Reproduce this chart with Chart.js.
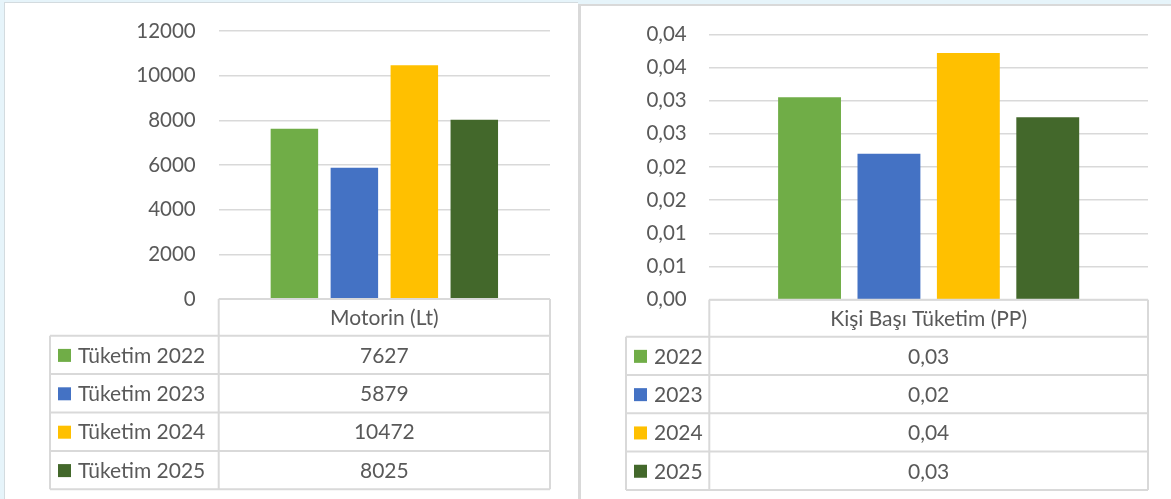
<!DOCTYPE html>
<html>
<head>
<meta charset="utf-8">
<script src="https://cdn.jsdelivr.net/npm/chart.js@4.4.1/dist/chart.umd.min.js"></script>
<style>
  html, body { margin: 0; padding: 0; }
  body { width: 1171px; height: 499px; overflow: hidden; position: relative; background: #e6f4fa; }
  .panel { position: absolute; background: #fff; box-sizing: border-box; }
  #p1 { left: 4px; top: 2px; width: 574px; height: 497px; border-left: 1px solid #d3dbdf; border-top: 1px solid #d3dbdf; }
  #p2 { left: 578px; top: 4px; width: 593px; height: 495px; border-left: 3px solid #d9d9d9; border-top: 2px solid #d9d9d9; }
  canvas { position: absolute; top: 0; }
  #c1 { left: 0; }
  #c2 { left: 578px; }
</style>
</head>
<body>
<div class="panel" id="p1"></div>
<div class="panel" id="p2"></div>
<canvas id="c1" width="578" height="499"></canvas>
<canvas id="c2" width="593" height="499"></canvas>
<script>
const seriesColors = ['#70AD47', '#4472C4', '#FFC000', '#43682B'];

// left chart
const motorinCategory = ['Motorin (Lt)'];
const motorinSeries = ['Tüketim 2022', 'Tüketim 2023', 'Tüketim 2024', 'Tüketim 2025'];
const motorinValues = [7627, 5879, 10472, 8025];
const motorinTicks = ['0', '2000', '4000', '6000', '8000', '10000', '12000'];

// right chart
const perCapitaCategory = ['Kişi Başı Tüketim (PP)'];
const perCapitaSeries = ['2022', '2023', '2024', '2025'];
const perCapitaValues = [0.0305, 0.0220, 0.0372, 0.0275];
const perCapitaTicks = ['0,00', '0,01', '0,01', '0,02', '0,02', '0,03', '0,03', '0,04', '0,04'];

const FONT = { family: 'Lato', size: 20.5 };
const TABLE_FONT = '21px Lato';
const TEXT = '#595959';
const LINE = '#d9d9d9';

function fmtComma(v) {
    return (Math.round(v * 100 + 1e-6) / 100).toFixed(2).replace('.', ',');
}

// Excel-style data table under the plot
const dataTablePlugin = {
    id: 'dataTable',
    afterDraw(chart, args, opts) {
        const ctx = chart.ctx;
        const a = chart.chartArea;
        const n = chart.data.datasets.length;
        const top = a.bottom;
        const rowsTop = top + opts.headerHeight;
        const bottom = rowsTop + opts.rowHeight * n;
        const legL = opts.legendLeft;
        const mid = (a.left + a.right) / 2;
        ctx.save();
        ctx.strokeStyle = LINE;
        ctx.lineWidth = 2;
        ctx.beginPath();
        ctx.moveTo(a.left, top); ctx.lineTo(a.right, top);
        for (let i = 0; i <= n; i++) {
            const y = rowsTop + opts.rowHeight * i;
            ctx.moveTo(legL, y); ctx.lineTo(a.right, y);
        }
        ctx.moveTo(a.left, top); ctx.lineTo(a.left, bottom);
        ctx.moveTo(a.right, top); ctx.lineTo(a.right, bottom);
        ctx.moveTo(legL, rowsTop); ctx.lineTo(legL, bottom);
        ctx.stroke();

        ctx.font = TABLE_FONT;
        ctx.textBaseline = 'middle';
        ctx.fillStyle = TEXT;
        ctx.textAlign = 'center';
        ctx.fillText(chart.data.labels[0], mid, top + opts.headerHeight / 2 + 1);
        chart.data.datasets.forEach((ds, i) => {
            const cy = rowsTop + opts.rowHeight * i + opts.rowHeight / 2 + 1;
            ctx.fillStyle = ds.backgroundColor;
            ctx.fillRect(legL + 8, cy - 7, 13, 13);
            ctx.fillStyle = TEXT;
            ctx.textAlign = 'left';
            ctx.fillText(ds.label, legL + 28, cy);
            ctx.textAlign = 'center';
            ctx.fillText(opts.format(ds.data[0]), mid, cy);
        });
        ctx.restore();
    }
};

function makeChart(id, cfg) {
    return new Chart(document.getElementById(id), {
        type: 'bar',
        data: {
            labels: cfg.category,
            datasets: cfg.series.map((name, i) => ({
                label: name,
                data: [cfg.values[i]],
                backgroundColor: seriesColors[i],
                borderWidth: 0,
                categoryPercentage: 0.724,
                barPercentage: 0.792
            }))
        },
        options: {
            responsive: false,
            animation: false,
            layout: { padding: cfg.padding },
            plugins: {
                legend: { display: false },
                tooltip: { enabled: false },
                dataTable: cfg.table
            },
            scales: {
                x: { display: false },
                y: {
                    min: 0,
                    max: cfg.max,
                    afterFit(scale) { scale.width = cfg.axisWidth; },
                    ticks: {
                        stepSize: cfg.step,
                        padding: 0,
                        color: TEXT,
                        font: FONT,
                        callback: (v, i) => cfg.ticks[i]
                    },
                    // invisible tick marks give the gap between labels and plot
                    grid: { color: LINE, lineWidth: 1.5, tickLength: cfg.labelGap, tickColor: 'rgba(0,0,0,0)' },
                    border: { display: false }
                }
            }
        },
        plugins: [dataTablePlugin]
    });
}

makeChart('c1', {
    category: motorinCategory,
    series: motorinSeries,
    values: motorinValues,
    ticks: motorinTicks,
    max: 12000,
    step: 2000,
    axisWidth: 218.7,
    labelGap: 23,
    padding: { left: 0, right: 28, top: 31, bottom: 200 },
    table: { headerHeight: 36.7, rowHeight: 38.4, legendLeft: 50, format: v => String(v) }
});

makeChart('c2', {
    category: perCapitaCategory,
    series: perCapitaSeries,
    values: perCapitaValues,
    ticks: perCapitaTicks,
    max: 0.04,
    step: 0.005,
    axisWidth: 131.3,
    labelGap: 22.6,
    padding: { left: 0, right: 23, top: 34.3, bottom: 199.3 },
    table: { headerHeight: 37, rowHeight: 38.3, legendLeft: 48, format: fmtComma }
});
</script>
</body>
</html>
